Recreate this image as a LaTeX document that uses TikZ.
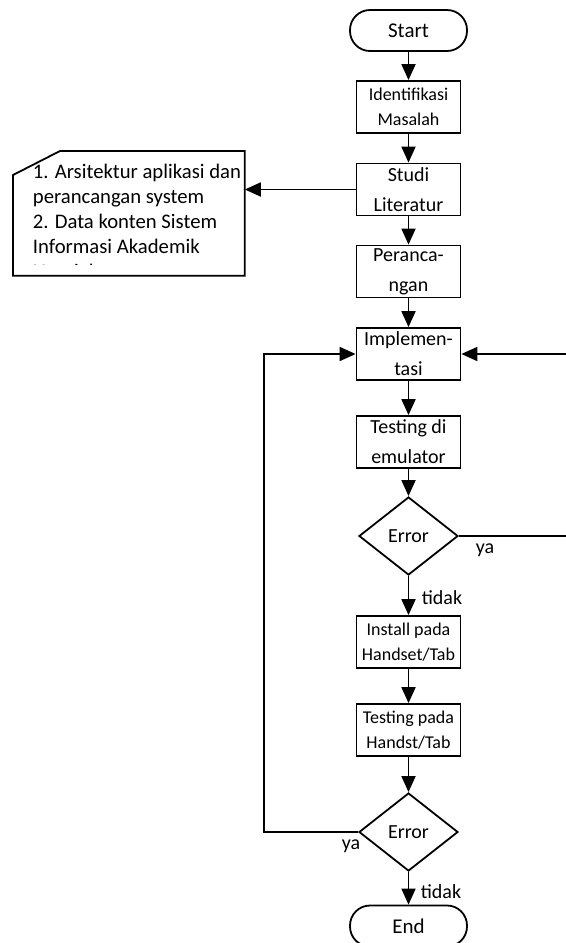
\documentclass[tikz,border=0pt]{standalone}
\usepackage{fontspec}
\setmainfont{Carlito}
\usetikzlibrary{shapes.geometric,arrows.meta}

\begin{document}
\begin{tikzpicture}[x=0.5pt,y=-0.5pt,
    line width=0.9pt,
    proc/.style={draw,minimum width=52pt,minimum height=26pt,inner sep=0pt,
      align=center,font=\fontsize{10}{15}\selectfont},
    procsm/.style={proc,font=\fontsize{9}{12.5}\selectfont},
    term/.style={draw,rounded corners=10pt,minimum width=58.5pt,
      minimum height=20.5pt,inner sep=0pt,font=\fontsize{10.5}{12}\selectfont},
    dec/.style={draw,diamond,minimum width=49.5pt,minimum height=39pt,
      inner sep=0pt,font=\fontsize{10}{12}\selectfont},
    arr/.style={-{Triangle[length=8pt,width=7pt]}},
    lbl/.style={inner sep=0pt,font=\fontsize{10}{12}\selectfont}]
  \useasboundingbox (0,0) rectangle (566,943);
  % main column
  \node[term] (start) at (408.5,30.5) {Start};
  \node[procsm] (ident) at (408.5,107) {Identifikasi\\Masalah};
  \node[proc] (studi) at (408.5,189.5) {Studi\\Literatur};
  \node[proc] (peran) at (408.5,271.5) {Peranca-\\ngan};
  \node[proc] (impl) at (408.5,354) {Implemen-\\tasi};
  \node[proc] (testemu) at (408.5,442) {Testing di\\emulator};
  \node[dec] (err1) at (408.5,536) {Error};
  \node[procsm] (inst) at (408.5,642) {Install pada\\Handset/Tab};
  \node[procsm] (testhp) at (408.5,730) {Testing pada\\Handst/Tab};
  \node[dec] (err2) at (408.5,832) {Error};
  \node[term] (end) at (408.5,926) {End};
  \foreach \a/\b in {start/ident, ident/studi, studi/peran, peran/impl,
      impl/testemu, testemu/err1, err1/inst, inst/testhp, testhp/err2, err2/end}
    \draw[arr] (\a) -- (\b);
  % labels
  \node[lbl] (ya1) at (485,550) {ya};
  \node[lbl] (tidak1) at (442,598) {tidak};
  \node[lbl] (ya2) at (351,846) {ya};
  \node[lbl] (tidak2) at (441,892) {tidak};
  % loops back to implementasi
  \coordinate (rbot) at (568,536);
  \coordinate (rtop) at (568,354);
  \draw[arr] (err1.east) -- (rbot) -- (rtop) -- (impl.east);
  \coordinate (lbot) at (264,832);
  \coordinate (ltop) at (264,354);
  \draw[arr] (err2.west) -- (lbot) -- (ltop) -- (impl.west);
  % note
  \node[minimum width=115pt,minimum height=61.5pt,inner sep=0pt,
    anchor=north west] (note) at (13,151) {};
  \draw ([yshift=-12pt]note.north west) -- ([xshift=23.5pt]note.north west)
    -- (note.north east) -- (note.south east) -- (note.south west) -- cycle;
  \begin{scope}
    \clip (13,151) rectangle (243,264);
    \node[anchor=north west,inner sep=0pt,align=left,
      font=\fontsize{10.35}{12.5}\selectfont] (notetext) at (32,163)
      {1. Arsitektur aplikasi dan\\perancangan system\\2. Data konten Sistem\\Informasi Akademik\\Unsyiah};
  \end{scope}
  \draw[arr] (studi.west) -- (studi.west -| note.east);
\end{tikzpicture}
\end{document}
